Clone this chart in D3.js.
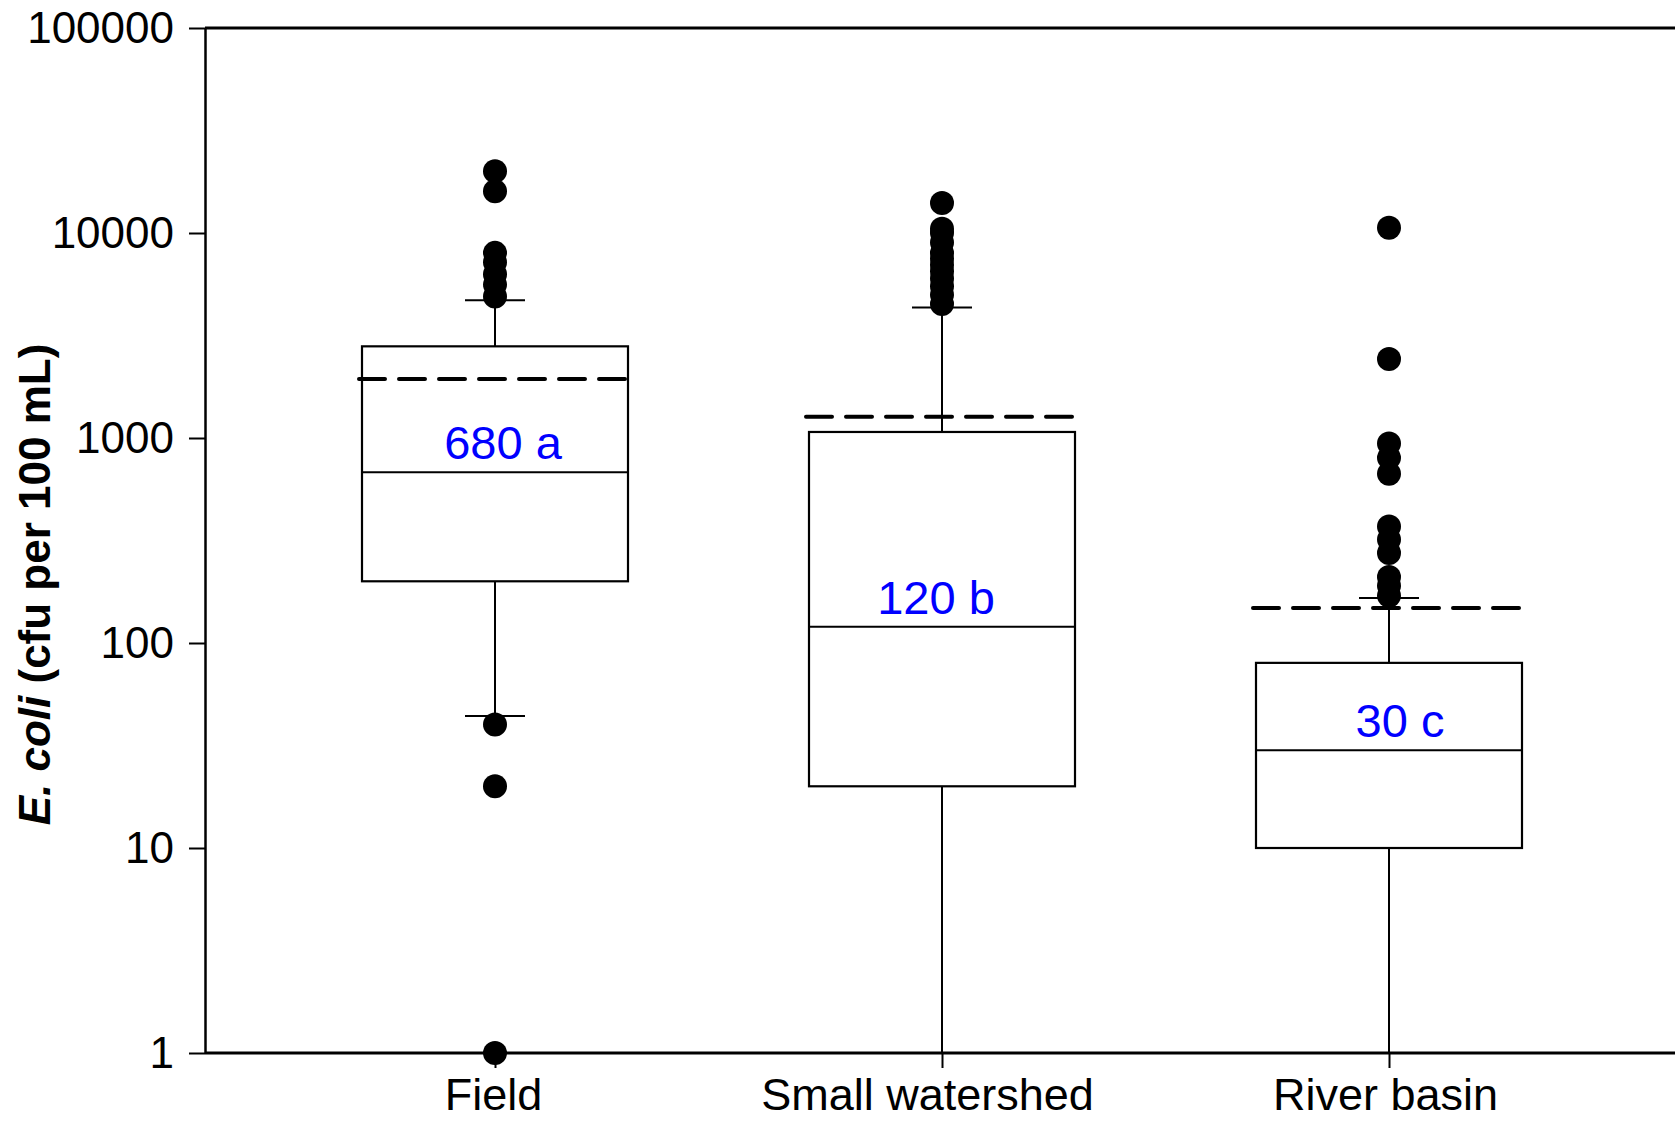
<!DOCTYPE html>
<html>
<head>
<meta charset="utf-8">
<script src="https://cdn.jsdelivr.net/npm/d3@7"></script>
<style>
  body { margin: 0; background: #fff; }
  text { font-family: "Liberation Sans", Arial, sans-serif; }
</style>
</head>
<body>
<svg id="chart"></svg>
<script>
// data
var categories = ["Field", "Small watershed", "River basin"];
var q1         = [200, 20, 10];
var medians    = [680, 120, 30];
var q3         = [2800, 1070, 80];
var whiskLo    = [44, 1, 1];
var whiskHi    = [4700, 4330, 166];
var means      = [1940, 1270, 148];
var medLabels  = ["680 a", "120 b", "30 c"];
var outliers   = [
  [20000, 16000, 8000, 7200, 6300, 5600, 4900, 40, 20, 1],
  [14000, 10500, 10000, 9000, 8000, 7500, 7000, 6500, 6000, 5500, 5000, 4500],
  [10600, 2430, 940, 800, 670, 370, 320, 275, 210, 190, 170]
];
var yTicks = [1, 10, 100, 1000, 10000, 100000];

(function drawChart() {
  var w = 1675, h = 1122;
  var left = 205, top = 28, bottom = 1053;
  var boxW = 266, capW = 60;
  var labelDx = [8, -6, 11];   // label nudges, as in the original
  var tickDx  = [-2, -15, -4];

  var svg = d3.select("#chart").attr("width", w).attr("height", h);

  var y = d3.scaleLog().domain([1, 100000]).range([bottom, top]);
  var x = d3.scalePoint().domain(categories).range([495, 1389]);

  // frame: top line and bottom axis line run off the right edge
  svg.append("line").attr("x1", left).attr("x2", w).attr("y1", top).attr("y2", top)
    .attr("stroke", "#000").attr("stroke-width", 3);
  svg.append("line").attr("x1", left).attr("x2", w).attr("y1", bottom).attr("y2", bottom)
    .attr("stroke", "#000").attr("stroke-width", 3);

  // y axis
  var yAxis = svg.append("g").attr("transform", "translate(" + left + ",0)")
    .call(d3.axisLeft(y).tickValues(yTicks).tickFormat(d3.format("d"))
      .tickSize(16).tickSizeOuter(0).tickPadding(15));
  yAxis.select(".domain").attr("stroke-width", 2.5);
  yAxis.selectAll(".tick line").attr("stroke-width", 2);
  yAxis.selectAll("text").attr("font-size", 44).attr("fill", "#000")
    .style("font-family", "'Liberation Sans', Arial, sans-serif");

  // x axis
  var xAxis = svg.append("g").attr("transform", "translate(0," + bottom + ")")
    .call(d3.axisBottom(x).tickSize(15).tickSizeOuter(0).tickPadding(10));
  xAxis.select(".domain").remove();
  xAxis.selectAll(".tick line").attr("stroke-width", 2);
  xAxis.selectAll("text").attr("font-size", 45).attr("fill", "#000")
    .attr("dx", function(d, i) { return tickDx[i]; })
    .style("font-family", "'Liberation Sans', Arial, sans-serif");

  // y label
  var yl = svg.append("text")
    .attr("transform", "translate(50," + ((top + bottom) / 2 + 44) + ") rotate(-90)")
    .attr("text-anchor", "middle").attr("font-size", 44).attr("font-weight", "bold");
  yl.append("tspan").attr("font-style", "italic").text("E. coli");
  yl.append("tspan").text(" (cfu per 100 mL)");

  var boxes = svg.selectAll("g.box").data(categories).enter().append("g").attr("class", "box");

  boxes.each(function(c, i) {
    var g = d3.select(this);
    var cx = x(c);

    // whiskers
    g.append("line").attr("x1", cx).attr("x2", cx).attr("y1", y(q3[i])).attr("y2", y(whiskHi[i]))
      .attr("stroke", "#000").attr("stroke-width", 2);
    g.append("line").attr("x1", cx).attr("x2", cx).attr("y1", y(q1[i])).attr("y2", y(whiskLo[i]))
      .attr("stroke", "#000").attr("stroke-width", 2);
    [whiskHi[i], whiskLo[i]].forEach(function(v) {
      g.append("line").attr("x1", cx - capW / 2).attr("x2", cx + capW / 2)
        .attr("y1", y(v)).attr("y2", y(v)).attr("stroke", "#000").attr("stroke-width", 2);
    });

    // box
    g.append("rect").attr("x", cx - boxW / 2).attr("width", boxW)
      .attr("y", y(q3[i])).attr("height", y(q1[i]) - y(q3[i]))
      .attr("fill", "none").attr("stroke", "#000").attr("stroke-width", 2.2);

    // median
    g.append("line").attr("x1", cx - boxW / 2).attr("x2", cx + boxW / 2)
      .attr("y1", y(medians[i])).attr("y2", y(medians[i]))
      .attr("stroke", "#000").attr("stroke-width", 2);

    // mean (dashed)
    g.append("line").attr("x1", cx - boxW / 2 - 3).attr("x2", cx + boxW / 2)
      .attr("y1", y(means[i])).attr("y2", y(means[i]))
      .attr("stroke", "#000").attr("stroke-width", 4)
      .attr("stroke-linecap", "round").attr("stroke-dasharray", "26,14");

    // outliers
    g.selectAll("circle").data(outliers[i]).enter().append("circle")
      .attr("cx", cx).attr("cy", function(d) { return y(d); })
      .attr("r", 12).attr("fill", "#000");

    // median label
    g.append("text").attr("x", cx + labelDx[i]).attr("y", y(medians[i]) - 13)
      .attr("text-anchor", "middle").attr("font-size", 47).attr("fill", "#0000ff")
      .text(medLabels[i]);
  });
})();
</script>
</body>
</html>
